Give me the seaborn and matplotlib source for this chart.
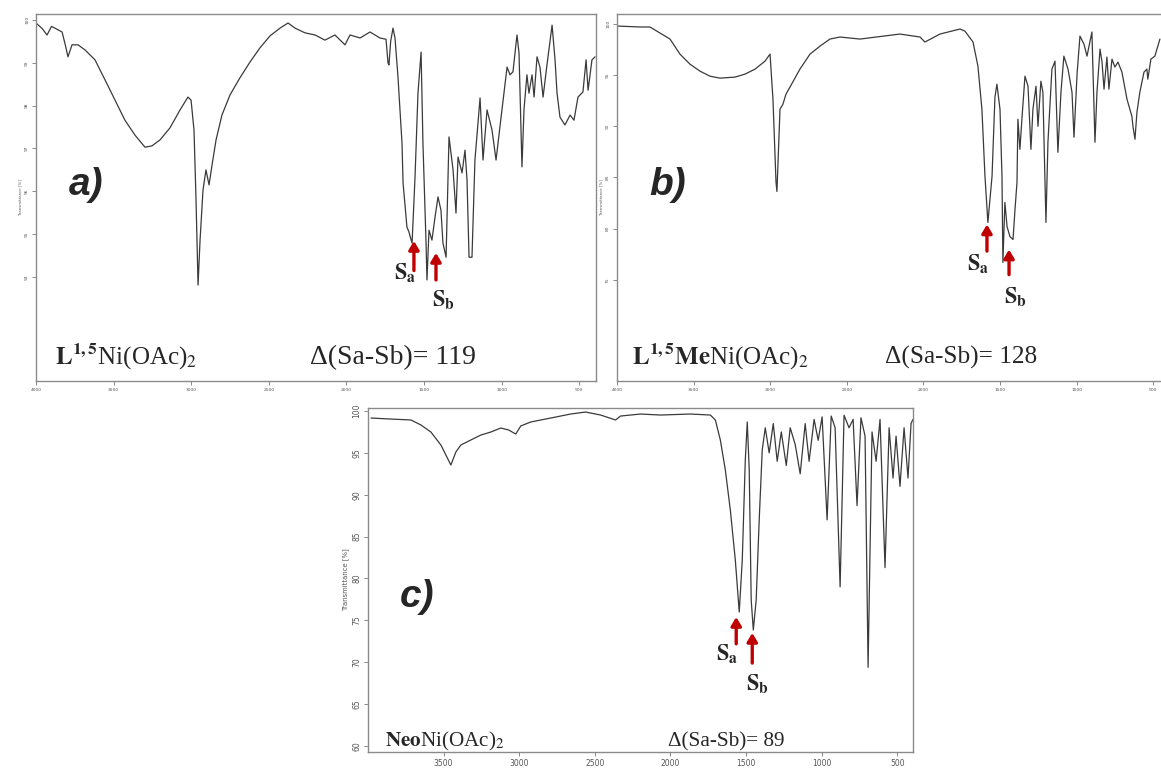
import numpy as np
import pandas as pd
import matplotlib
matplotlib.use("Agg")
import matplotlib.pyplot as plt
import seaborn as sns

# ---------------- data ----------------
# Panel a) L1,5Ni(OAc)2  (wavenumber cm-1, transmittance %)
wn_a = [3994, 3960, 3929, 3900, 3878, 3832, 3810, 3794, 3768, 3729, 3684, 3620, 3555,
        3491, 3427, 3362, 3298, 3253, 3201, 3137, 3072, 3021, 3001, 2982, 2969, 2956,
        2943, 2924, 2905, 2885, 2866, 2840, 2802, 2750, 2686, 2621, 2557, 2492, 2428,
        2376, 2331, 2267, 2202, 2138, 2074, 2009, 1977, 1912, 1848, 1784, 1745, 1732,
        1726, 1715, 1700, 1687, 1668, 1642, 1635, 1610, 1597, 1590, 1577, 1558, 1539,
        1519, 1507, 1487, 1481, 1468, 1449, 1429, 1410, 1391, 1378, 1358, 1339, 1313,
        1294, 1281, 1255, 1236, 1223, 1210, 1191, 1172, 1139, 1120, 1094, 1062, 1036,
        998, 965, 946, 927, 901, 888, 869, 856, 837, 824, 804, 791, 772, 753, 733, 708,
        675, 656, 643, 624, 592, 559, 534, 508, 476, 456, 443, 418, 398]
t_a = [99.91, 99.80, 99.65, 99.85, 99.81, 99.72, 99.40, 99.14, 99.42, 99.42, 99.30, 99.07, 98.60,
       98.13, 97.66, 97.31, 97.03, 97.06, 97.20, 97.48, 97.90, 98.20, 98.13, 97.43, 95.80, 93.81,
       94.86, 96.03, 96.50, 96.15, 96.61, 97.20, 97.78, 98.25, 98.65, 99.02, 99.35, 99.63, 99.81,
       99.93, 99.81, 99.70, 99.65, 99.53, 99.65, 99.42, 99.65, 99.58, 99.72, 99.58, 99.55, 99.00,
       98.95, 99.50, 99.81, 99.58, 98.68, 97.13, 96.19, 95.16, 95.05, 94.95, 94.79, 96.33, 98.29,
       99.25, 97.13, 94.79, 93.93, 95.09, 94.86, 95.40, 95.87, 95.56, 94.79, 94.46, 97.27, 96.50,
       95.49, 96.80, 96.43, 96.96, 96.26, 94.46, 94.46, 96.73, 98.18, 96.73, 97.90, 97.43, 96.73,
       97.90, 98.90, 98.72, 98.79, 99.65, 99.23, 96.57, 97.90, 98.72, 98.29, 98.72, 98.20, 99.14,
       98.90, 98.20, 98.95, 99.88, 99.07, 98.29, 97.73, 97.55, 97.78, 97.66, 98.20, 98.32, 99.07,
       98.36, 99.07, 99.14]

# Panel b) L1,5MeNi(OAc)2
wn_b = [3993, 3850, 3785, 3654, 3589, 3524, 3458, 3393, 3328, 3230, 3165, 3099, 3034,
        3001, 2982, 2962, 2956, 2936, 2917, 2897, 2871, 2806, 2740, 2675, 2610, 2545,
        2414, 2153, 2022, 1990, 1892, 1761, 1729, 1676, 1644, 1618, 1598, 1579, 1552,
        1533, 1520, 1500, 1487, 1481, 1468, 1454, 1435, 1415, 1402, 1389, 1383, 1370,
        1357, 1337, 1317, 1298, 1285, 1265, 1252, 1233, 1220, 1200, 1187, 1161, 1141,
        1122, 1102, 1083, 1056, 1030, 1017, 997, 978, 952, 932, 900, 880, 867, 847, 834,
        821, 802, 789, 769, 750, 730, 704, 671, 639, 632, 619, 606, 587, 560, 541, 535,
        515, 489, 456]
t_b = [99.80, 99.71, 99.71, 98.53, 97.06, 96.08, 95.39, 94.90, 94.71, 94.81, 95.10, 95.59, 96.37,
       97.06, 92.65, 84.5, 83.63, 91.67, 92.16, 93.14, 93.83, 95.59, 97.06, 97.84, 98.53, 98.73,
       98.53, 99.02, 98.73, 98.24, 99.02, 99.51, 99.31, 98.24, 95.88, 91.67, 85.10, 80.60, 85.10,
       92.84, 94.12, 91.67, 85.10, 76.68, 82.56, 80.20, 79.22, 78.93, 81.87, 84.52, 90.69, 87.75,
       90.69, 94.90, 93.92, 87.75, 91.67, 93.92, 90.00, 94.41, 93.34, 80.60, 88.44, 95.59, 96.37,
       87.46, 93.34, 96.86, 95.59, 93.34, 88.93, 95.10, 98.82, 98.04, 96.86, 99.22, 88.44, 93.34,
       97.55, 96.28, 93.63, 96.77, 93.63, 96.57, 95.79, 96.28, 95.30, 92.65, 90.98, 90.00, 88.73,
       91.38, 93.34, 95.30, 95.59, 94.61, 96.57, 96.86, 98.53]

# Panel c) NeoNi(OAc)2
wn_c = [3980, 3848, 3716, 3650, 3584, 3518, 3485, 3452, 3419, 3386, 3320, 3254, 3188,
        3122, 3069, 3023, 2990, 2924, 2792, 2660, 2561, 2462, 2363, 2330, 2198, 2066,
        1868, 1736, 1703, 1670, 1637, 1604, 1571, 1545, 1525, 1505, 1492, 1479, 1466,
        1452, 1433, 1413, 1393, 1373, 1347, 1320, 1294, 1267, 1234, 1208, 1175, 1142,
        1109, 1083, 1050, 1023, 997, 964, 937, 911, 878, 852, 819, 792, 766, 740, 713,
        693, 667, 640, 614, 581, 554, 528, 508, 482, 455, 429, 409, 396]
t_c = [99.16, 99.04, 98.93, 98.33, 97.49, 95.94, 94.75, 93.55, 95.10, 95.94, 96.54, 97.13, 97.49,
       97.97, 97.73, 97.25, 98.21, 98.69, 99.16, 99.64, 99.88, 99.52, 98.93, 99.40, 99.64, 99.52,
       99.64, 99.52, 98.93, 96.54, 92.96, 88.18, 82.21, 76.00, 82.21, 94.15, 98.69, 92.96, 77.43,
       73.85, 77.43, 86.99, 95.34, 98.0, 95.0, 98.5, 94.0, 97.5, 93.5, 98.0, 96.0, 92.5,
       98.5, 94.0, 99.0, 96.5, 99.3, 87.0, 99.4, 98.0, 79.0, 99.5, 98.0, 99.0, 88.7, 99.2, 97.0,
       69.4, 97.5, 94.0, 99.0, 81.3, 98.0, 92.0, 97.0, 91.0, 98.0, 92.0, 98.5, 99.0]

ticks_x_ab = [4000, 3500, 3000, 2500, 2000, 1500, 1000, 500]
ticks_x_c = [3500, 3000, 2500, 2000, 1500, 1000, 500]
ticks_y_a = [94, 95, 96, 97, 98, 99, 100]
ticks_y_b = [75, 80, 85, 90, 95, 100]
ticks_y_c = [60, 65, 70, 75, 80, 85, 90, 95, 100]

labels_compound = [r"$\mathbf{L^{1,5}}$Ni(OAc)$_2$",
                   r"$\mathbf{L^{1,5}Me}$Ni(OAc)$_2$",
                   r"$\mathbf{Neo}$Ni(OAc)$_2$"]
labels_delta = ["Δ(Sa-Sb)= 119", "Δ(Sa-Sb)= 128", "Δ(Sa-Sb)= 89"]
panel_letters = ["a)", "b)", "c)"]

# ---------------- figure ----------------
sns.set_style("ticks")
plt.rcParams['font.family'] = ['DejaVu Sans']
plt.rcParams['mathtext.fontset'] = 'stix'

W, H = 1161, 774
fig = plt.figure(figsize=(W / 100, H / 100), dpi=100)


def px_axes(x0, y0, x1, y1):
    return fig.add_axes([x0 / W, 1 - y1 / H, (x1 - x0) / W, (y1 - y0) / H])


ax_a = px_axes(36, 14, 596, 381)
ax_b = px_axes(617, 14, 1161, 381)
ax_c = px_axes(368, 408, 913, 752)

line_col = "#3a3a3a"
spine_col = "#8a8a8a"
serif = ['Liberation Serif', 'DejaVu Serif']

specs = [
    (ax_a, wn_a, t_a, (4000, 392), (91.57, 100.14), ticks_x_ab, ticks_y_a, 3.2),
    (ax_b, wn_b, t_b, (4000, 449), (65.1, 100.98), ticks_x_ab, ticks_y_b, 3.2),
    (ax_c, wn_c, t_c, (4000, 396), (59.28, 100.36), ticks_x_c, ticks_y_c, 5.5),
]

for ax, wn, tt, xl, yl, xt, yt, fs in specs:
    df = pd.DataFrame({"wn": wn, "T": tt})
    sns.lineplot(data=df, x="wn", y="T", ax=ax, sort=False, estimator=None,
                 color=line_col, linewidth=0.9)
    ax.set_xlim(*xl)
    ax.set_ylim(*yl)
    ax.set_xticks(xt)
    ax.set_xticklabels([str(v) for v in xt], fontsize=fs)
    ax.set_yticks(yt)
    ax.set_yticklabels([str(v) for v in yt], fontsize=fs, rotation=90, va="center")
    ax.tick_params(direction="out", length=3, width=0.7, colors=spine_col, pad=2)
    for lab in ax.get_xticklabels() + ax.get_yticklabels():
        lab.set_color("#555555")
    ax.set_xlabel("")
    ax.set_ylabel("Transmittance [%]", fontsize=fs * 0.9 if fs > 4 else 2.8,
                  color="#555555", labelpad=2)
    for s in ax.spines.values():
        s.set_color(spine_col)
        s.set_linewidth(1.0)

ax_b.spines["right"].set_visible(False)

# panel letters
for ax, letter, pos in [(ax_a, panel_letters[0], (0.09, 0.534)),
                        (ax_b, panel_letters[1], (0.094, 0.534)),
                        (ax_c, panel_letters[2], (0.09, 0.45))]:
    ax.text(pos[0], pos[1], letter, transform=ax.transAxes, fontsize=28,
            fontweight="bold", fontstyle="italic", ha="center", va="center",
            family=['Liberation Sans', 'DejaVu Sans'])

# compound labels
for ax, lab, dl, xl, xd, yy, f1, f2 in [
        (ax_a, labels_compound[0], labels_delta[0], 0.034, 0.49, 0.065, 18, 20),
        (ax_b, labels_compound[1], labels_delta[1], 0.028, 0.492, 0.065, 18, 18.2),
        (ax_c, labels_compound[2], labels_delta[2], 0.031, 0.55, 0.03, 15.2, 15.3)]:
    ax.text(xl, yy, lab, transform=ax.transAxes, fontsize=f1, family=serif,
            ha="left", va="center")
    ax.text(xd, yy, dl, transform=ax.transAxes, fontsize=f2, family=serif,
            ha="left", va="center")

# Sa / Sb arrows and labels (data coordinates)
red = "#c00000"
arrows = [
    (ax_a, (1565, 94.84), (1565, 94.15), (1622, 94.09), (1423, 94.56), (1423, 93.93), (1378, 93.45)),
    (ax_b, (1585, 80.4), (1585, 77.8), (1644, 76.5), (1441, 77.95), (1441, 75.5), (1402, 73.3)),
    (ax_c, (1565, 75.4), (1565, 72.2), (1624, 70.9), (1459, 73.5), (1459, 69.9), (1426, 67.4)),
]
for ax, sa_tip, sa_tail, sa_txt, sb_tip, sb_tail, sb_txt in arrows:
    for tip, tail, txt, name in [(sa_tip, sa_tail, sa_txt, r"$\mathbf{S_a}$"),
                                 (sb_tip, sb_tail, sb_txt, r"$\mathbf{S_b}$")]:
        ax.annotate("", xy=tip, xytext=tail,
                    arrowprops=dict(arrowstyle="-|>,head_width=0.3,head_length=0.5",
                                    color=red, lw=2.4, shrinkA=0, shrinkB=0))
        ax.text(txt[0], txt[1], name, fontsize=16, ha="center", va="center")

fig.savefig("out.png", dpi=100, facecolor="white")
